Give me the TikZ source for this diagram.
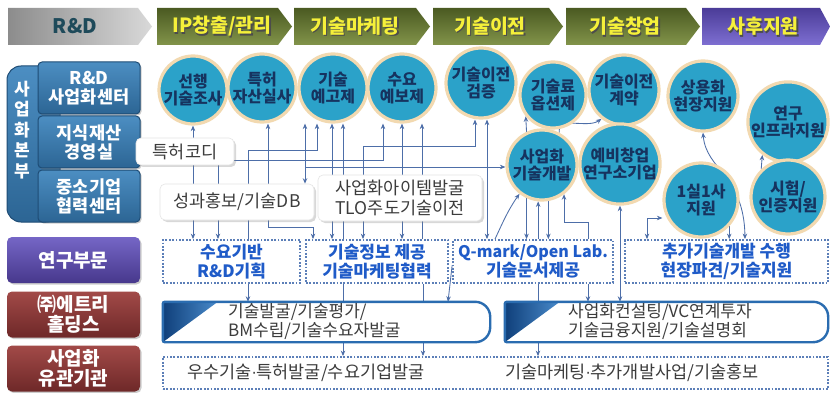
\documentclass[tikz,border=0pt]{standalone}
\usepackage{fontspec}
\setmainfont{Noto Sans CJK KR}
\newfontfamily\dvs{DejaVu Sans}
\usetikzlibrary{arrows.meta,shadows}
\definecolor{lc}{HTML}{4D6EA8}
\definecolor{cfill}{HTML}{2BA2C9}
\definecolor{cring}{HTML}{F2D9B0}
\definecolor{ctext}{HTML}{16335F}
\definecolor{olvT}{HTML}{4B5A22}
\definecolor{olvB}{HTML}{82944A}
\definecolor{purT}{HTML}{4B3C98}
\definecolor{purB}{HTML}{7E6FD2}
\definecolor{hy}{HTML}{F5F03A}
\definecolor{rdtxt}{HTML}{1E4A5A}
\definecolor{sbT}{HTML}{4C8EC2}
\definecolor{sbB}{HTML}{2C6594}
\definecolor{sbD}{HTML}{1E4C75}
\definecolor{mrT}{HTML}{A24A48}
\definecolor{mrB}{HTML}{6E2828}
\definecolor{ppT}{HTML}{7566C6}
\definecolor{ppB}{HTML}{47388C}
\definecolor{dotc}{HTML}{5C7FB8}
\definecolor{dtext}{HTML}{1F5BC8}
\definecolor{bbord}{HTML}{2A6CB0}
\definecolor{btriA}{HTML}{0F3F7A}
\definecolor{btriB}{HTML}{4A8BCB}
\definecolor{gtext}{HTML}{3C3C3C}
\pgfdeclarelayer{back}
\pgfdeclarelayer{bg}
\pgfsetlayers{back,bg,main}
\begin{document}
\begin{tikzpicture}[x=1pt,y=-1pt,>={Stealth[length=5.5pt,width=4.5pt]},
 every node/.style={inner sep=0pt},
 conn/.style={draw=lc,line width=0.85pt},
 hdr/.style={font=\bfseries\fontsize{19.5}{21}\selectfont,text=hy},
 hdrsh/.style={font=\bfseries\fontsize{19.5}{21}\selectfont,text=black!70},
 circ/.style={circle,fill=cfill,draw=cring,line width=3.2pt,minimum size=68pt,text=ctext,align=center,font=\bfseries\fontsize{16}{17.5}\selectfont},
 lbox/.style={rectangle,rounded corners=4pt,top color=sbT,bottom color=sbB,draw=sbD,line width=1pt,text=white,align=center,font=\bfseries\fontsize{17.5}{19}\selectfont,minimum width=102pt,minimum height=52pt,drop shadow={shadow xshift=1.5pt,shadow yshift=-1.5pt,opacity=.4}},
 rbox/.style={rectangle,rounded corners=5pt,text=white,align=center,font=\bfseries\fontsize{19}{20}\selectfont,minimum width=133pt,minimum height=46pt,drop shadow={shadow xshift=1.5pt,shadow yshift=-1.5pt,opacity=.4}},
 dbox/.style={rectangle,fill=white,draw=dotc,line width=1.8pt,dash pattern=on 1.8pt off 1.6pt,text=dtext,align=center,font=\bfseries\fontsize{17}{19}\selectfont,minimum height=43pt},
 lab/.style={rectangle,rounded corners=5pt,fill=white,draw=gray!20,line width=0.6pt,text=gtext,align=center,font=\fontsize{17.5}{19.5}\selectfont,drop shadow={shadow xshift=2pt,shadow yshift=-2pt,opacity=.3}},
 btxt/.style={text=gtext,align=left,anchor=west,font=\fontsize{17}{18.5}\selectfont},
 etxt/.style={text=gtext,font=\fontsize{17.5}{19}\selectfont},
 bbox/.style={draw=bbord,line width=2.4pt}
]
\useasboundingbox (0,0) rectangle (830,393);
\begin{pgfonlayer}{back}
\fill[white] (0,0) rectangle (830,393);
% header chevrons
\shade[left color=black!45,middle color=white,right color=black!15] (8,8) -- (138,8) -- (152,26.5) -- (138,45) -- (8,45) -- cycle;
\shade[top color=olvT,bottom color=olvB] (157,8) -- (278,8) -- (292,26.5) -- (278,45) -- (157,45) -- cycle;
\shade[top color=olvT,bottom color=olvB] (294,8) -- (416,8) -- (430,26.5) -- (416,45) -- (294,45) -- cycle;
\shade[top color=olvT,bottom color=olvB] (433,8) -- (549,8) -- (563,26.5) -- (549,45) -- (433,45) -- cycle;
\shade[top color=olvT,bottom color=olvB] (566,8) -- (686,8) -- (700,26.5) -- (686,45) -- (566,45) -- cycle;
\shade[top color=purT,bottom color=purB] (702,8) -- (820,8) -- (830,26.5) -- (820,45) -- (702,45) -- cycle;
% tall blue band
\shade[top color=sbT,bottom color=sbB,rounded corners=14pt] (7,66) rectangle (60,222);
\draw[sbD,line width=1pt,rounded corners=14pt] (7,66) rectangle (60,222);
% header text shadows
\node[hdrsh] (s1) at (223.2,27.7) {IP창출/관리};
\node[hdrsh] (s2) at (356.2,27.7) {기술마케팅};
\node[hdrsh] (s3) at (491.2,27.7) {기술이전};
\node[hdrsh] (s4) at (626.2,27.7) {기술창업};
\node[hdrsh] (s5) at (764.2,27.7) {사후지원};
\end{pgfonlayer}

\node[font=\bfseries\fontsize{20}{22}\selectfont,text=rdtxt] (hRD) at (75,26.5) {R\&D};
\node[hdr] (h1) at (222,26.5) {IP창출/관리};
\node[hdr] (h2) at (355,26.5) {기술마케팅};
\node[hdr] (h3) at (490,26.5) {기술이전};
\node[hdr] (h4) at (625,26.5) {기술창업};
\node[hdr] (h5) at (763,26.5) {사후지원};

% left column
\node[font=\bfseries\fontsize{17}{20.5}\selectfont,text=white,align=center] (hq) at (22,130) {사\\업\\화\\본\\부};
\node[lbox] (rdc) at (89,88) {R\&D\\사업화센터};
\node[lbox] (ipo) at (89,142) {지식재산\\경영실};
\node[lbox] (smc) at (89,196) {중소기업\\협력센터};
\node[rbox,top color=ppT,bottom color=ppB] (res) at (73.5,260) {연구부문};
\node[rbox,top color=mrT,bottom color=mrB] (etr) at (73.5,314.5) {㈜에트리\\홀딩스};
\node[rbox,top color=mrT,bottom color=mrB] (rel) at (73.5,368.5) {사업화\\유관기관};

% circles
\node[circ] (c1) at (193,90) {선행\\기술조사};
\node[circ] (c2) at (262,88) {특허\\자산실사};
\node[circ] (c3) at (333,88) {기술\\예고제};
\node[circ] (c4) at (402,88) {수요\\예보제};
\node[circ,minimum size=70pt] (c5) at (481,83) {기술이전\\검증};
\node[circ,minimum size=66pt] (c6) at (553,95) {기술료\\옵션제};
\node[circ,minimum size=70pt] (c7) at (624,90) {기술이전\\계약};
\node[circ,minimum size=70pt] (c8) at (703,96) {상용화\\현장지원};
\node[circ,minimum size=74pt] (c9) at (788,122) {연구\\인프라지원};
\node[circ,minimum size=70pt] (c10) at (542,165) {사업화\\기술개발};
\node[circ,minimum size=72pt] (c11) at (620,164) {예비창업\\연구소기업};
\node[circ,minimum size=74pt] (c12) at (701,200) {1실1사\\지원};
\node[circ,minimum size=74pt] (c13) at (788,197) {시험/\\인증지원};

% labels
\node[lab,minimum width=98pt,minimum height=27pt] (lab1) at (185,151.5) {특허코디};
\node[lab,minimum width=154pt,minimum height=36pt] (lab2) at (237,202) {성과홍보/기술DB};
\node[lab,minimum width=164pt,minimum height=46pt] (lab3) at (400,198) {사업화아이템발굴\\TLO주도기술이전};

% dotted boxes
\node[dbox,minimum width=137pt] (d1) at (231.5,261.5) {수요기반\\R\&D기획};
\node[dbox,minimum width=142pt] (d2) at (377,261.5) {기술정보 제공\\기술마케팅협력};
\node[dbox,minimum width=160pt] (d3) at (533,261.5) {{\fontsize{16}{19}\selectfont Q-mark/Open Lab.}\\기술문서제공};
\node[dbox,minimum width=203pt] (d4) at (726.5,261.5) {추가기술개발 수행\\현장파견/기술지원};

% blue boxes
\node[minimum width=327pt,minimum height=40pt] (bb1) at (326.5,322) {};
\node[minimum width=323pt,minimum height=40pt] (bb2) at (666.5,322) {};
\fill[white] (bb1.north west) rectangle (bb1.south east);
\shade[left color=btriA,right color=btriB] (bb1.north west) -- ++(55,0) -- (bb1.south west) -- cycle;
\draw[bbox] (bb1.north west) [rounded corners=15pt] -- (bb1.north east) -- (bb1.south east) [rounded corners=2pt] -- (bb1.south west) -- cycle;
\fill[white] (bb2.north west) rectangle (bb2.south east);
\shade[left color=btriA,right color=btriB] (bb2.north west) -- ++(55,0) -- (bb2.south west) -- cycle;
\draw[bbox] (bb2.north west) [rounded corners=15pt] -- (bb2.north east) -- (bb2.south east) [rounded corners=2pt] -- (bb2.south west) -- cycle;
\node[btxt] (bt1) at (228,321.5) {기술발굴/기술평가/\\BM수립/기술수요자발굴};
\node[btxt] (bt2) at (568,321.5) {사업화컨설팅/VC연계투자\\기술금융지원/기술설명회};

% bottom dotted
\node[dbox,minimum width=665pt,minimum height=32pt] (e1) at (495.5,373) {};
\node[etxt] (et1) at (306,373) {우수기술{\dvs\fontsize{15}{17}\selectfont·}특허발굴/수요기업발굴};
\node[etxt] (et2) at (632,373) {기술마케팅{\dvs\fontsize{15}{17}\selectfont·}추가개발사업/기술홍보};

% x positions
\foreach \v in {218,248,268,305,317,332,343,402,422,423,448,475,487,495,538,588,745}
  \coordinate (v\v) at (\v,0);
\coordinate (p3) at (313,227);
\coordinate (p4) at (248,150);
\coordinate (p8) at (383,160);
\coordinate (p9) at (305,167);
\coordinate (p10) at (363,146);
\coordinate (p20) at (588,222);
\coordinate (p22) at (647,218);

\begin{pgfonlayer}{bg}
\draw[conn,<->] (c1.south) -- (c1.south |- d1.north);
\draw[conn,->] (lab1.south -| v218) -- (d1.north -| v218);
\draw[conn,<->] (c2.south -| v268) |- (p3) -- (p3 |- d2.north);
\draw[conn,->] (d1.north -| p4) -- (p4) -| (c3.south -| v317);
\draw[conn,<->] (c3.south -| v305) -- (lab2.north -| v305);
\draw[conn,<->] (c3.south -| v332) -- (d2.north -| v332);
\draw[conn,->] (d2.north -| v343) -- (c3.south -| v343);
\draw[conn,->] (lab1.east |- p8) -- (p8) -- (c4.south -| p8);
\draw[conn,->] (p9) -- (p9 -| c10.west);
\draw[conn,<->] (d2.north -| p10) -- (p10) -| (c5.south -| v475);
\draw[conn,<->] (c4.south) -- (c4.south |- d2.north);
\draw[conn,->] (d2.north -| v422) -- (c4.south -| v422);
\draw[conn,<->] (c5.south -| v487) -- (d3.north -| v487);
\draw[conn,->] (c10.115) -- (c6.-142);
\draw[conn,->] (c10.62) to[out=95,in=215] (c7.-128);
\draw[conn,->] (d3.north -| v495) to[out=65,in=-125] (c10.-128);
\draw[conn,->] (c10.-115) -- (c10.-115 |- d3.north);
\draw[conn,->] (c10.-96 |- d3.north) -- (c10.-96);
\draw[conn,->] (c10.-80) -- (c10.-80 |- d3.north);
\draw[conn,->] (d3.north -| p20) -- (p20) -| (c10.-53);
\draw[conn,<->] (c11.south) -- (c11.south |- bb2.north);
\draw[conn,<->] (d4.north -| p22) -- (p22) -- (p22 -| c12.west);
\draw[conn,->] (c12.-43) -- (c12.-43 |- d4.north);
\draw[conn,<->] (c8.south) .. controls (706,170) and (744,175) .. (d4.north -| v745);
\draw[conn,->] (c13.134) -- (c9.-128);
% lower rows
\draw[conn,->] (d1.south -| v248) -- (bb1.north -| v248);
\draw[conn] (d2.south -| v343) -- (bb1.north -| v343);
\draw[conn] (d2.south -| v423) -- (bb1.north -| v423);
\draw[conn,->] ([yshift=-4pt]d3.west) -- (bb1.north -| v448);
\draw[conn] (d3.south -| v538) -- (bb2.north -| v538);
\draw[conn,->] (d3.south -| v588) -- (bb2.north -| v588);
\draw[conn,->] (bb1.south -| v343) -- (e1.north -| v343);
\draw[conn,->] (bb1.south -| v423) -- (e1.north -| v423);
\draw[conn,->] (bb2.south -| v538) -- (e1.north -| v538);
\end{pgfonlayer}
\end{tikzpicture}
\end{document}
